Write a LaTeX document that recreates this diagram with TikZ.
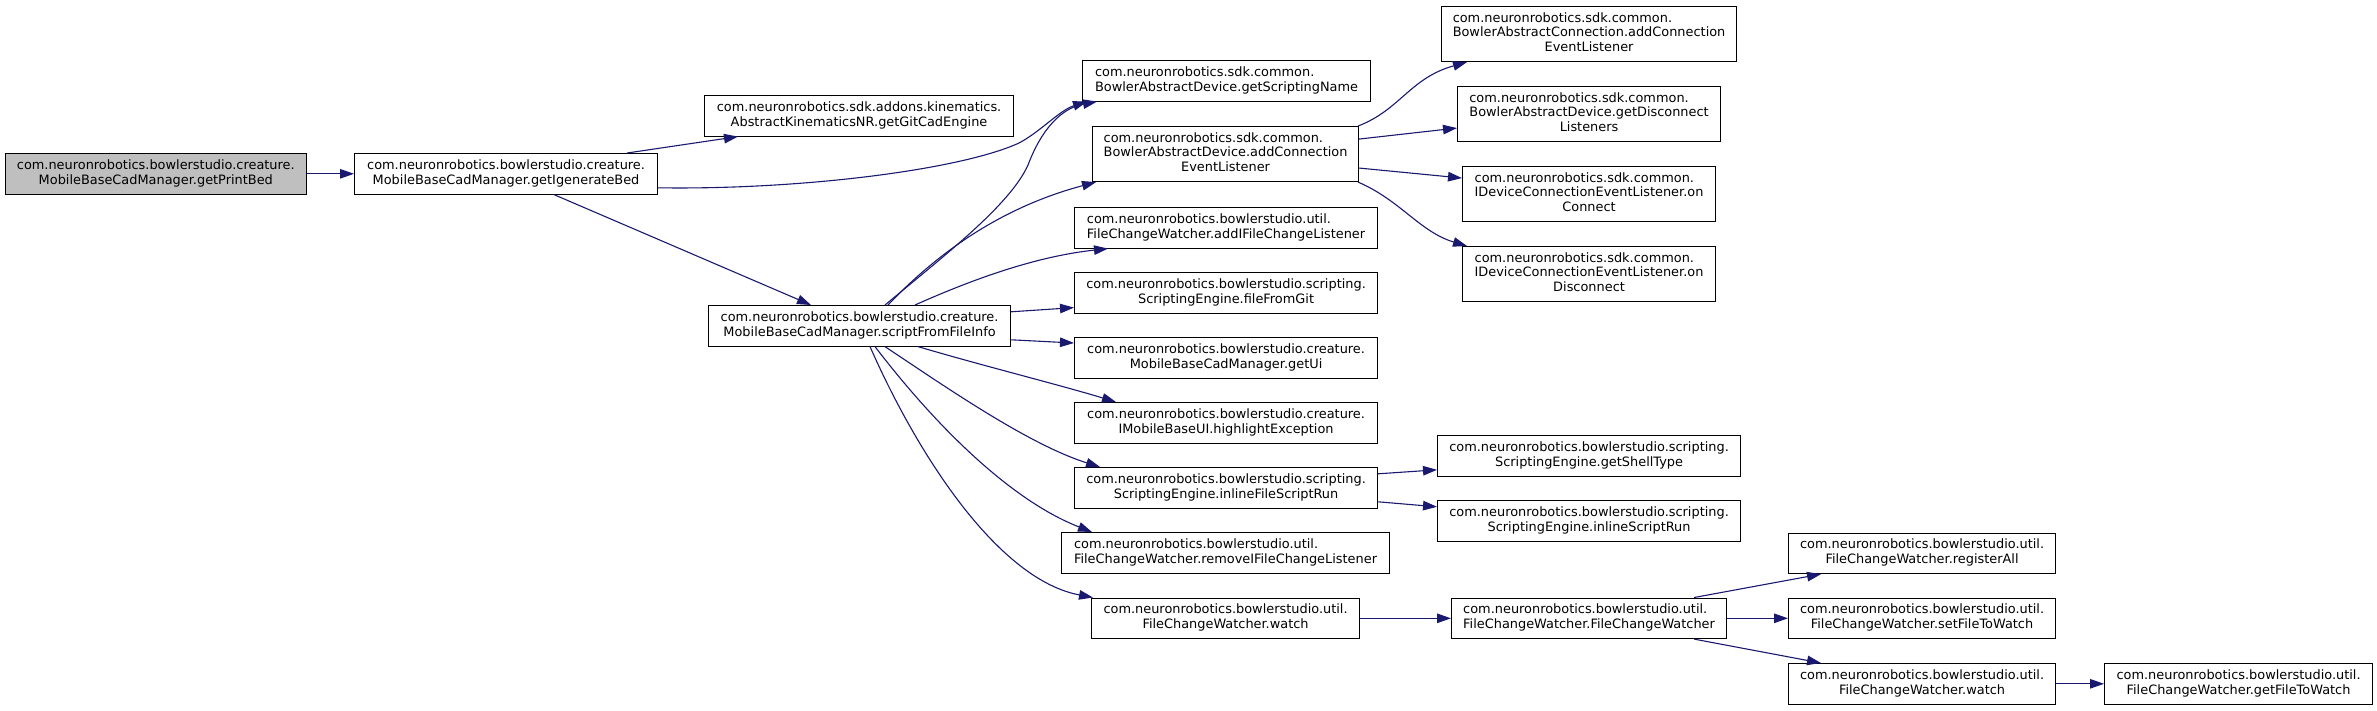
\documentclass[tikz,border=0pt]{standalone}
\usepackage{fontspec}
\setmainfont{DejaVu Sans}
\usetikzlibrary{arrows.meta}
\definecolor{edgeblue}{HTML}{191970}
\definecolor{rootgray}{HTML}{BFBFBF}
\newcommand\twol[2]{\begin{tabular}{@{}l@{}}#1\\\multicolumn{1}{@{}c@{}}{#2}\end{tabular}}
\newcommand\threel[3]{\begin{tabular}{@{}l@{}}#1\\#2\\\multicolumn{1}{@{}c@{}}{#3}\end{tabular}}
\begin{document}
\begin{tikzpicture}[x=1pt,y=-1pt,
  fn/.style={draw=black,line width=1.1pt,fill=white,inner sep=0pt,anchor=north west,
    font=\fontsize{12.9}{14.7}\selectfont},
  two/.style={fn,minimum height=40.5pt},
  three/.style={fn,minimum height=55pt},
  root/.style={two,fill=rootgray},
  callarrow/.style={draw=edgeblue,line width=1.1pt,-{Triangle[length=14pt,width=9.5pt]}}]
\fill[white] (0,0) rectangle (2377,710);
\useasboundingbox (0,0) rectangle (2377,710);

% nodes
\node[root,minimum width=301.5pt] (A) at (4.5,153) {\twol{com.neuronrobotics.bowlerstudio.creature.}{MobileBaseCadManager.getPrintBed}};
\node[two,minimum width=303pt] (B) at (354,153) {\twol{com.neuronrobotics.bowlerstudio.creature.}{MobileBaseCadManager.getIgenerateBed}};
\node[two,minimum width=309pt] (gitCad) at (704,95) {\twol{com.neuronrobotics.sdk.addons.kinematics.}{AbstractKinematicsNR.getGitCadEngine}};
\node[two,minimum width=302pt] (sffi) at (708,305) {\twol{com.neuronrobotics.bowlerstudio.creature.}{MobileBaseCadManager.scriptFromFileInfo}};
\node[two,minimum width=288pt] (gsn) at (1082,60) {\twol{com.neuronrobotics.sdk.common.}{BowlerAbstractDevice.getScriptingName}};
\node[three,minimum width=266pt] (bad) at (1092,126) {\threel{com.neuronrobotics.sdk.common.}{BowlerAbstractDevice.addConnection}{EventListener}};
\node[two,minimum width=303pt] (addIFCL) at (1074,207) {\twol{com.neuronrobotics.bowlerstudio.util.}{FileChangeWatcher.addIFileChangeListener}};
\node[two,minimum width=303pt] (ffg) at (1074,272) {\twol{com.neuronrobotics.bowlerstudio.scripting.}{ScriptingEngine.fileFromGit}};
\node[two,minimum width=303pt] (getUi) at (1074,337) {\twol{com.neuronrobotics.bowlerstudio.creature.}{MobileBaseCadManager.getUi}};
\node[two,minimum width=303pt] (highlight) at (1074,402) {\twol{com.neuronrobotics.bowlerstudio.creature.}{IMobileBaseUI.highlightException}};
\node[two,minimum width=303pt] (ifsr) at (1074,467) {\twol{com.neuronrobotics.bowlerstudio.scripting.}{ScriptingEngine.inlineFileScriptRun}};
\node[two,minimum width=328pt] (removeIFCL) at (1061,532) {\twol{com.neuronrobotics.bowlerstudio.util.}{FileChangeWatcher.removeIFileChangeListener}};
\node[two,minimum width=268pt] (watch1) at (1091,597.5) {\twol{com.neuronrobotics.bowlerstudio.util.}{FileChangeWatcher.watch}};
\node[three,minimum width=295pt] (bac) at (1441,6) {\threel{com.neuronrobotics.sdk.common.}{BowlerAbstractConnection.addConnection}{EventListener}};
\node[three,minimum width=263pt] (gdl) at (1457,86) {\threel{com.neuronrobotics.sdk.common.}{BowlerAbstractDevice.getDisconnect}{Listeners}};
\node[three,minimum width=253pt] (onc) at (1462,166) {\threel{com.neuronrobotics.sdk.common.}{IDeviceConnectionEventListener.on}{Connect}};
\node[three,minimum width=253pt] (ond) at (1462,246) {\threel{com.neuronrobotics.sdk.common.}{IDeviceConnectionEventListener.on}{Disconnect}};
\node[two,minimum width=303pt] (gst) at (1437,435) {\twol{com.neuronrobotics.bowlerstudio.scripting.}{ScriptingEngine.getShellType}};
\node[two,minimum width=303pt] (isr) at (1437,500) {\twol{com.neuronrobotics.bowlerstudio.scripting.}{ScriptingEngine.inlineScriptRun}};
\node[two,minimum width=275pt] (fcw) at (1451,597.5) {\twol{com.neuronrobotics.bowlerstudio.util.}{FileChangeWatcher.FileChangeWatcher}};
\node[two,minimum width=267pt] (regAll) at (1788,532.5) {\twol{com.neuronrobotics.bowlerstudio.util.}{FileChangeWatcher.registerAll}};
\node[two,minimum width=267pt] (sftw) at (1788,597.5) {\twol{com.neuronrobotics.bowlerstudio.util.}{FileChangeWatcher.setFileToWatch}};
\node[two,minimum width=267pt] (watch2) at (1788,663) {\twol{com.neuronrobotics.bowlerstudio.util.}{FileChangeWatcher.watch}};
\node[two,minimum width=268pt] (gftw) at (2104,663) {\twol{com.neuronrobotics.bowlerstudio.util.}{FileChangeWatcher.getFileToWatch}};

% edges
\draw[callarrow] (A.east) -- (B.west);
\draw[callarrow] ([xshift=-31pt]B.north east) -- ([xshift=34pt]gitCad.south west);
\draw[callarrow] ([yshift=-14pt]B.east) .. controls (800,190) and (960,170) .. (1019,143)
   .. controls (1040,132) and (1060,110) .. ([xshift=5pt]gsn.south west);
\draw[callarrow] ([xshift=200pt]B.south west) -- ([xshift=103pt]sffi.north west);

\draw[callarrow] ([xshift=177pt]sffi.north west) .. controls (945,255) and (1010,205) .. (1028,165)
   .. controls (1042,128) and (1062,108) .. ([xshift=15pt]gsn.south west);
\draw[callarrow] ([xshift=180pt]sffi.north west) .. controls (945,245) and (1010,205) .. ([xshift=4pt]bad.south west);
\draw[callarrow] ([xshift=207pt]sffi.north west) .. controls (980,276) and (1040,256) .. ([xshift=34pt]addIFCL.south west);
\draw[callarrow] ([yshift=14pt]sffi.east) -- ([yshift=6pt]ffg.south west);
\draw[callarrow] ([yshift=-14pt]sffi.east) -- ([yshift=-6pt]getUi.north west);
\draw[callarrow] ([xshift=210pt]sffi.south west) .. controls (980,365) and (1060,385) .. ([xshift=42pt]highlight.north west);
\draw[callarrow] ([xshift=177pt]sffi.south west) .. controls (950,390) and (1030,445) .. ([xshift=26pt]ifsr.north west);
\draw[callarrow] ([xshift=167pt]sffi.south west) .. controls (935,425) and (1010,500) .. ([xshift=31pt]removeIFCL.north west);
\draw[callarrow] ([xshift=162pt]sffi.south west) .. controls (920,460) and (1000,580) .. ([xshift=2pt]watch1.north west);

\draw[callarrow] ([xshift=-1pt]bad.north east) .. controls (1400,110) and (1410,78) .. ([xshift=26pt]bac.south west);
\draw[callarrow] ([yshift=15pt]bad.east) -- ([yshift=-14pt]gdl.west);
\draw[callarrow] ([yshift=-14pt]bad.east) -- ([yshift=16pt]onc.west);
\draw[callarrow] ([xshift=-1pt]bad.south east) .. controls (1400,200) and (1420,232) .. ([xshift=5pt]ond.north west);

\draw[callarrow] ([yshift=14pt]ifsr.east) -- ([yshift=-14pt]gst.west);
\draw[callarrow] ([yshift=-14pt]ifsr.east) -- ([yshift=14pt]isr.west);

\draw[callarrow] (watch1.east) -- (fcw.west);
\draw[callarrow] ([xshift=-33pt]fcw.north east) -- ([xshift=33pt]regAll.south west);
\draw[callarrow] (fcw.east) -- (sftw.west);
\draw[callarrow] ([xshift=-33pt]fcw.south east) -- ([xshift=33pt]watch2.north west);
\draw[callarrow] (watch2.east) -- (gftw.west);
\end{tikzpicture}
\end{document}
